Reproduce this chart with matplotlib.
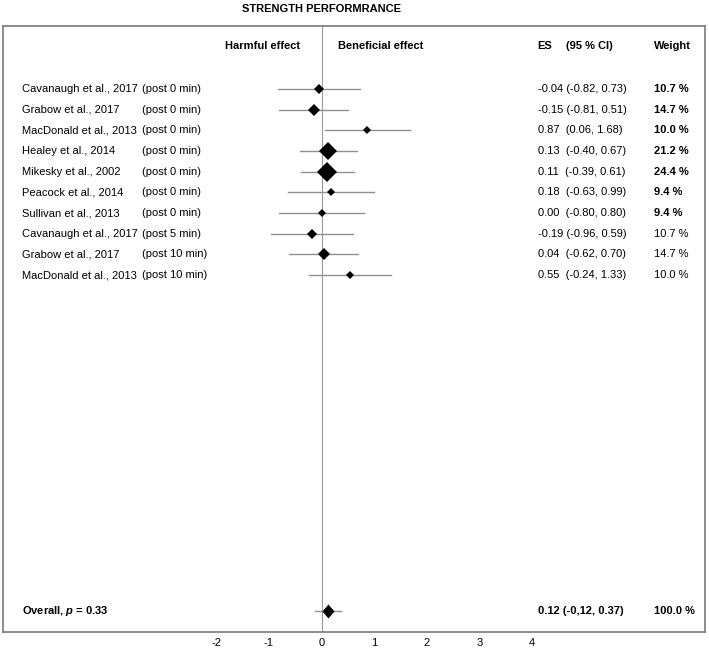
import numpy as np
import matplotlib
matplotlib.use("Agg")
import matplotlib.pyplot as plt

plt.rcParams["font.family"] = ["Liberation Sans", "DejaVu Sans"]
plt.rcParams["mathtext.fontset"] = "custom"
plt.rcParams["mathtext.it"] = "Liberation Sans:bold:italic"
plt.rcParams["mathtext.rm"] = "Liberation Sans:bold"

studies = ["Cavanaugh et al., 2017", "Grabow et al., 2017", "MacDonald et al., 2013",
           "Healey et al., 2014", "Mikesky et al., 2002", "Peacock et al., 2014",
           "Sullivan et al., 2013", "Cavanaugh et al., 2017", "Grabow et al., 2017",
           "MacDonald et al., 2013"]
times = ["(post 0 min)"] * 7 + ["(post 5 min)", "(post 10 min)", "(post 10 min)"]
es = [-0.04, -0.15, 0.87, 0.13, 0.11, 0.18, 0.00, -0.19, 0.04, 0.55]
lo = [-0.82, -0.81, 0.06, -0.40, -0.39, -0.63, -0.80, -0.96, -0.62, -0.24]
hi = [0.73, 0.51, 1.68, 0.67, 0.61, 0.99, 0.80, 0.59, 0.70, 1.33]
weights = [10.7, 14.7, 10.0, 21.2, 24.4, 9.4, 9.4, 10.7, 14.7, 10.0]
bold_w = [True] * 7 + [False] * 3

overall_es, overall_lo, overall_hi = 0.12, -0.12, 0.37
overall_label = "0.12 (-0,12, 0.37)"
overall_p = 0.33
ticks = [-2, -1, 0, 1, 2, 3, 4]

dpi = 100
fig = plt.figure(figsize=(7.09, 6.49), dpi=dpi)
ax = fig.add_axes([3 / 709, 17 / 649, 702 / 709, 606 / 649])
ax.set_xlim(-6.055, 7.29)
ax.set_ylim(26.27, -3.05)

gray = "#999999"
ax.axvline(0, color=gray, lw=0.8, zorder=1)

fs = 8
x_name, x_time, x_es, x_w = -5.69, -3.41, 4.12, 6.32
for i in range(len(es)):
    ax.plot([lo[i], hi[i]], [i, i], color="#8f8f8f", lw=1.0, zorder=2)
    ms = weights[i] * 0.86 * 72 / dpi / np.sqrt(2)
    ax.plot(es[i], i, marker="D", ms=ms, color="black", mew=0, zorder=3)
    ax.text(x_name, i, studies[i], fontsize=fs, va="center", ha="left")
    ax.text(x_time, i, times[i], fontsize=fs, va="center", ha="left")
    sep = " " if es[i] < 0 else "  "
    ax.text(x_es, i, f"{es[i]:.2f}{sep}({lo[i]:.2f}, {hi[i]:.2f})",
            fontsize=fs, va="center", ha="left")
    ax.text(x_w, i, f"{weights[i]:.1f} %", fontsize=fs, va="center", ha="left",
            fontweight="bold" if bold_w[i] else "normal")

y_ov = 25.25
ax.plot([overall_lo, overall_hi], [y_ov, y_ov], color="#8f8f8f", lw=1.0, zorder=2)
ax.plot(overall_es, y_ov, marker=[(0, 1.15), (1, 0), (0, -1.15), (-1, 0)], ms=10,
        color="black", mew=0, zorder=3)
ax.text(x_name, y_ov, f"Overall, $p$ = {overall_p:.2f}", fontsize=fs,
        fontweight="bold", va="center", ha="left")
ax.text(x_es, y_ov, overall_label, fontsize=fs, fontweight="bold", va="center", ha="left")
ax.text(x_w, y_ov, "100.0 %", fontsize=fs, fontweight="bold", va="center", ha="left")

y_h = -2.08
ax.text(-0.41, y_h, "Harmful effect", fontsize=fs, fontweight="bold", va="center", ha="right")
ax.text(0.31, y_h, "Beneficial effect", fontsize=fs, fontweight="bold", va="center", ha="left")
ax.text(4.10, y_h, "ES", fontsize=fs, fontweight="bold", va="center", ha="left")
ax.text(4.65, y_h, "(95 % CI)", fontsize=fs, fontweight="bold", va="center", ha="left")
ax.text(x_w, y_h, "Weight", fontsize=fs, fontweight="bold", va="center", ha="left")

fig.text(322 / 709, 1 - 9 / 649, "STRENGTH PERFORMRANCE", fontsize=fs,
         fontweight="bold", ha="center", va="center")

ax.set_xticks(ticks)
ax.set_xticklabels([str(t) for t in ticks], fontsize=fs)
ax.tick_params(axis="x", length=0, pad=4)
ax.set_yticks([])
for s in ax.spines.values():
    s.set_color("#7a7a7a")
    s.set_linewidth(1.2)

fig.savefig("out.png", dpi=dpi)
